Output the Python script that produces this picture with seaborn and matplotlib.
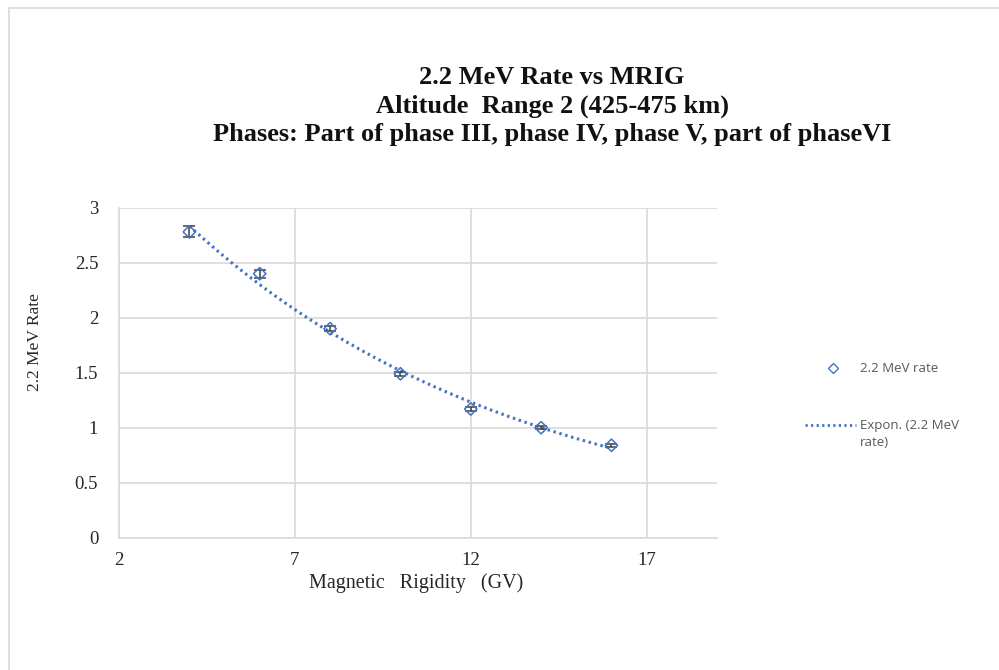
import numpy as np
import pandas as pd
import matplotlib
matplotlib.use("Agg")
import matplotlib.pyplot as plt
import seaborn as sns
from matplotlib.patches import Rectangle
from matplotlib.lines import Line2D

rigidity = [4, 6, 8, 10, 12, 14, 16]
rate = [2.78, 2.40, 1.90, 1.49, 1.17, 1.00, 0.84]
rate_err = [0.05, 0.035, 0.025, 0.02, 0.02, 0.015, 0.015]
title_lines = ["2.2 MeV Rate vs MRIG", "Altitude  Range 2 (425-475 km)",
               "Phases: Part of phase III, phase IV, phase V, part of phaseVI"]
xticks = [2, 7, 12, 17]
yticks = [0, 0.5, 1, 1.5, 2, 2.5, 3]

df = pd.DataFrame({"x": rigidity, "y": rate, "err": rate_err})

sns.set_theme(style="white")
plt.rcParams['font.family'] = ['Liberation Serif', 'DejaVu Serif']

W, H = 999, 670
fig = plt.figure(figsize=(W / 100, H / 100), dpi=100)
# axes: left 119, right 717, top 207.7, bottom 537.7 (px)
ax = fig.add_axes([119 / W, 1 - 537.7 / H, (717 - 119) / W, (537.7 - 207.7) / H])

blue = "#4472C4"
grid_c = "#D9D9D9"

# exponential trendline fit from data
b, ln_a = np.polyfit(df["x"], np.log(df["y"]), 1)
xs = np.linspace(min(rigidity), max(rigidity), 200)
fit = pd.DataFrame({"x": xs, "y": np.exp(ln_a) * np.exp(b * xs)})
sns.lineplot(data=fit, x="x", y="y", ax=ax, color=blue, lw=2.2,
             linestyle=(0, (0.8, 1.2)), zorder=3)

ax.errorbar(df["x"], df["y"], yerr=df["err"], fmt="none", ecolor="#404040",
            elinewidth=1.1, capsize=4, capthick=1.1, zorder=4)
sns.scatterplot(data=df, x="x", y="y", ax=ax, marker="D", s=40,
                facecolor="none", edgecolor=blue, linewidth=1.1, zorder=5)

ax.set_xlim(2, 19)
ax.set_ylim(0, 3)
ax.set_xticks(xticks)
ax.set_yticks(yticks)
ax.set_xticklabels([str(t) for t in xticks])
ax.set_yticklabels([f"{t:g}" for t in yticks])
ax.grid(True, color=grid_c, lw=1.2)
for s in ["top", "right"]:
    ax.spines[s].set_visible(False)
for s in ["left", "bottom"]:
    ax.spines[s].set_color(grid_c)
    ax.spines[s].set_linewidth(1.2)
ax.tick_params(axis="both", length=0, labelsize=13.5, colors="#262626")
ax.tick_params(axis="y", pad=15)
ax.tick_params(axis="x", pad=10)
ax.set_xlabel("")
ax.set_ylabel("")

fig.text(416 / W, 1 - 583 / H, "Magnetic   Rigidity   (GV)", ha="center", va="center",
         fontsize=14.5, color="#262626")
fig.text(35 / W, 1 - 342 / H, "2.2 MeV Rate", ha="center", va="center",
         rotation=90, fontsize=12.5, color="#262626")

for i, (line, yy) in enumerate(zip(title_lines, [78, 106, 134])):
    fig.text(552 / W, 1 - yy / H, line, ha="center", va="center",
             fontsize=19, fontweight="bold", color="#111111")

# legend (manual)
fig.add_artist(Line2D([833 / W], [1 - 368 / H], marker="D", markersize=5,
                      markerfacecolor="none", markeredgecolor=blue,
                      markeredgewidth=1.0, linestyle="none"))
fig.text(860 / W, 1 - 368 / H, "2.2 MeV rate", ha="left", va="center",
         fontsize=9.5, color="#595959", family=["Open Sans", "DejaVu Sans"])
fig.add_artist(Line2D([805 / W, 856 / W], [1 - 425 / H, 1 - 425 / H],
                      color=blue, lw=2.0, linestyle=(0, (0.8, 1.2))))
fig.text(860 / W, 1 - 434 / H, "Expon. (2.2 MeV\nrate)", ha="left", va="center",
         fontsize=9.5, color="#595959", linespacing=1.3,
         family=["Open Sans", "DejaVu Sans"])

# outer chart border
fig.add_artist(Rectangle((9 / W, -0.1), 1.2, 1 - 8 / H + 0.1, transform=fig.transFigure,
                         fill=False, edgecolor="#D9D9D9", lw=1.2))

fig.savefig("out.png", dpi=100, facecolor="white")
